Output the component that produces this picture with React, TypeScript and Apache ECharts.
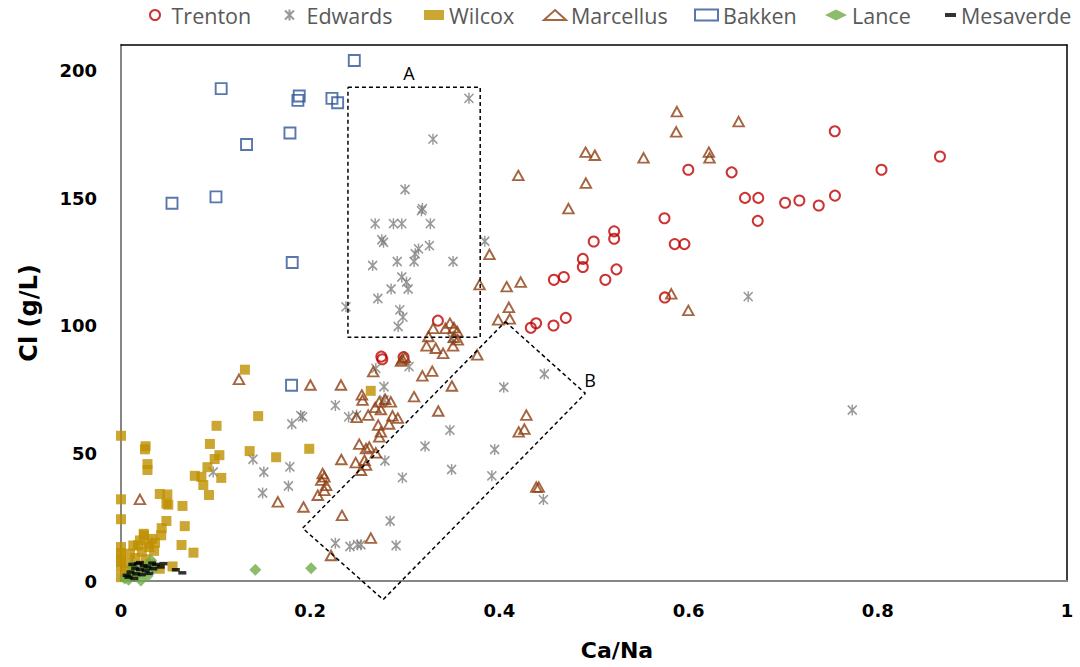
import React, { useEffect, useRef } from 'react';
import * as echarts from 'echarts';

type Pt = [number, number];

const seriesNames = ['Trenton', 'Edwards', 'Wilcox', 'Marcellus', 'Bakken', 'Lance', 'Mesaverde'];

const trenton: Pt[] = [
  [0.7545, 176.2], [0.8039, 161.1], [0.5997, 161.1], [0.6455, 160.1], [0.6596, 150.1], [0.6737, 150.1],
  [0.702, 148.2], [0.7171, 149.1], [0.7376, 147.1], [0.7547, 151.0], [0.6731, 141.1], [0.5745, 142.1],
  [0.5853, 132.0], [0.5956, 132.0], [0.4997, 133.0], [0.5213, 137.0], [0.5213, 134.1], [0.4882, 126.2],
  [0.4882, 123.0], [0.4576, 118.0], [0.4681, 119.1], [0.512, 118.0], [0.5237, 122.1], [0.5749, 111.1],
  [0.4332, 99.2], [0.4388, 101.0], [0.4572, 100.1], [0.4702, 103.1], [0.8657, 166.3], [0.335, 102.0],
  [0.2752, 87.9], [0.2762, 86.9], [0.2987, 87.7],
];

const edwards: Pt[] = [
  [0.2687, 140.0], [0.288, 140.0], [0.2968, 140.0], [0.327, 140.0], [0.2757, 133.7], [0.2775, 132.7],
  [0.266, 123.6], [0.292, 125.2], [0.2855, 114.4], [0.2715, 110.7], [0.2378, 107.4], [0.2947, 106.2],
  [0.298, 103.4], [0.293, 99.7], [0.3678, 189.1], [0.3298, 173.1], [0.3003, 153.4], [0.3186, 145.9],
  [0.3176, 145.1], [0.326, 131.4], [0.3145, 130.1], [0.311, 128.2], [0.3098, 125.2], [0.351, 125.2],
  [0.2968, 119.1], [0.3018, 117.1], [0.3035, 114.4], [0.3846, 133.1], [0.35, 95.1], [0.3045, 84.0],
  [0.278, 76.1], [0.278, 70.9], [0.2266, 68.8], [0.2406, 64.3], [0.249, 65.0], [0.192, 64.3],
  [0.19, 64.8], [0.1806, 61.5], [0.1395, 47.7], [0.151, 42.7], [0.1785, 44.7], [0.177, 37.2],
  [0.1497, 34.5], [0.279, 47.1], [0.2975, 40.5], [0.3214, 52.8], [0.3477, 59.1], [0.4046, 75.9],
  [0.4475, 81.1], [0.395, 51.5], [0.3495, 43.7], [0.392, 41.2], [0.4465, 31.9], [0.2845, 23.5],
  [0.2266, 14.8], [0.242, 13.5], [0.25, 14.2], [0.2536, 14.2], [0.2908, 13.9], [0.2694, 83.3],
  [0.0975, 42.7], [0.663, 111.4], [0.773, 67.0],
];

const wilcox: Pt[] = [
  [0.131, 82.8], [0.264, 74.5], [0.145, 64.6], [0.101, 60.8], [0, 56.9], [0.026, 52.8], [0.0253, 51.6],
  [0.094, 53.7], [0.199, 51.8], [0.136, 50.9], [0.104, 49.3], [0.099, 47.8], [0.164, 48.5], [0.028, 45.8],
  [0.028, 43.5], [0.0914, 44.6], [0.078, 41.2], [0.085, 40.8], [0.106, 40.4], [0.087, 37.6], [0.093, 33.7],
  [0, 32.0], [0.041, 34.1], [0.049, 33.9], [0.048, 30.3], [0.05, 29.9], [0.065, 29.4], [0, 24.2],
  [0.048, 23.5], [0.0674, 21.5], [0.043, 20.7], [0.0425, 17.9], [0.0243, 17.9], [0.02, 15.9],
  [0.0288, 14.6], [0.013, 13.9], [0.0095, 10.7], [0, 13.3], [0, 9.3], [0, 5.4], [0, 1.5], [0.064, 14.1],
  [0.0766, 11.1], [0.03, 13.3], [0.0545, 5.7], [0.041, 4.8], [0.015, 9.0], [0.022, 11.5], [0.033, 16.5],
  [0.018, 14.0], [0.008, 7.0], [0.026, 8.5], [0.035, 11.8], [0.005, 4.0], [0.012, 3.0], [0.031, 6.5],
  [0.024, 18.5], [0.036, 15.0], [0, 11.0], [0, 7.5],
];

const marcellus: Pt[] = [
  [0.5876, 183.9], [0.5869, 176.0], [0.6529, 180.0], [0.4911, 168.0], [0.5009, 166.8], [0.5524, 165.8],
  [0.6214, 168.0], [0.6221, 165.8], [0.42, 158.9], [0.4914, 155.9], [0.473, 145.9], [0.3895, 128.0],
  [0.379, 116.1], [0.4077, 115.3], [0.4225, 117.1], [0.41, 107.2], [0.3987, 102.3], [0.411, 102.7],
  [0.5817, 112.5], [0.5997, 106.0], [0.33, 99.0], [0.3477, 101.0], [0.343, 99.0], [0.352, 99.3],
  [0.3555, 97.7], [0.325, 95.8], [0.352, 95.5], [0.356, 94.5], [0.323, 92.1], [0.3327, 91.2],
  [0.3405, 89.2], [0.351, 92.1], [0.3766, 88.6], [0.2975, 86.9], [0.3, 87.6], [0.296, 86.2],
  [0.2666, 82.0], [0.3186, 80.4], [0.329, 82.2], [0.2002, 76.8], [0.2325, 76.8], [0.3498, 76.4],
  [0.2546, 72.9], [0.2553, 70.9], [0.3098, 72.2], [0.2792, 71.2], [0.2852, 70.2], [0.273, 70.2],
  [0.2687, 68.0], [0.2747, 67.2], [0.249, 64.1], [0.2613, 65.0], [0.3354, 66.6], [0.287, 64.7],
  [0.2926, 63.8], [0.2719, 61.1], [0.2834, 61.5], [0.2747, 58.4], [0.273, 56.5], [0.4285, 65.0],
  [0.4204, 58.4], [0.4264, 59.5], [0.2518, 53.6], [0.2624, 52.5], [0.259, 51.9], [0.2694, 50.2],
  [0.2329, 47.6], [0.2481, 46.4], [0.2574, 47.3], [0.259, 45.4], [0.2537, 43.4], [0.2132, 42.1],
  [0.215, 40.8], [0.2117, 39.5], [0.2168, 37.5], [0.215, 35.5], [0.208, 33.6], [0.1658, 31.0],
  [0.1929, 29.0], [0.439, 36.8], [0.4416, 36.8], [0.2336, 25.7], [0.2641, 16.8], [0.222, 10.0],
  [0.1247, 79.0], [0.02, 32.0],
];

const bakken: Pt[] = [
  [0.2466, 203.9], [0.1059, 192.9], [0.1884, 190.0], [0.187, 188.3], [0.223, 189.1], [0.229, 187.4],
  [0.1786, 175.5], [0.1327, 171.0], [0.0539, 148.0], [0.1004, 150.5], [0.181, 124.8], [0.1803, 76.7],
];

const lance: Pt[] = [
  [0.142, 4.4], [0.201, 5.0], [0.004, 1.0], [0.021, 0.2], [0.01, 2.5], [0.015, 4.0], [0.025, 5.5],
  [0.03, 6.0], [0.008, 0.5], [0.018, 3.0], [0.035, 5.0], [0.028, 2.0], [0.032, 8.0], [0.012, 6.0],
];

const mesaverde: Pt[] = [
  [0.058, 4.4], [0.0648, 3.2], [0.012, 6.5], [0.018, 6.8], [0.024, 6.0], [0.028, 5.5], [0.015, 5.0],
  [0.02, 4.5], [0.026, 4.0], [0.01, 3.5], [0.016, 2.8], [0.022, 2.5], [0.008, 1.5], [0.014, 1.0],
  [0.03, 3.0], [0.037, 6.5], [0.042, 5.5], [0.045, 6.8], [0.033, 7.0], [0.02, 7.2], [0.006, 2.2],
  [0.034, 4.8],
];

// annotation shapes (data coordinates)
const boxA: Pt[] = [[0.2399, 193.4], [0.3797, 193.4], [0.3797, 95.5], [0.2399, 95.5], [0.2399, 193.4]];
const boxB: Pt[] = [[0.4063, 101.6], [0.4908, 73.5], [0.2771, -7.3], [0.192, 20.7], [0.4063, 101.6]];

const STAR = 'path://M0,1L9,10M9,1L0,10M4.5,0L4.5,11';
const DASH = 'path://M0,0h11v4h-11z';

const tickFont = { color: '#000', fontFamily: 'DejaVu Sans', fontWeight: 'bold' as const, fontSize: 18 };
const titleFont = { color: '#000', fontFamily: 'DejaVu Sans', fontWeight: 'bold' as const, fontSize: 22 };
const yTitleFont = { ...titleFont, fontSize: 24 };
const legendFont = { color: '#595959', fontFamily: 'Open Sans', fontSize: 21.5 };

const legendLayout = [
  { name: 'Trenton', left: 149, w: 23, h: 10 },
  { name: 'Edwards', left: 284, w: 24, h: 11 },
  { name: 'Wilcox', left: 424, w: 20, h: 10 },
  { name: 'Marcellus', left: 543, w: 22, h: 10 },
  { name: 'Bakken', left: 694, w: 23, h: 11 },
  { name: 'Lance', left: 825, w: 22, h: 11 },
  { name: 'Mesaverde', left: 945, w: 11, h: 4, icon: DASH },
];

function buildOption() {
  const scatter = (name: string, data: Pt[], symbol: string, symbolSize: any, itemStyle: any) => ({
    type: 'scatter', name, data, symbol, symbolSize, itemStyle, silent: true,
    emphasis: { disabled: true }, xAxisIndex: 0, yAxisIndex: 0,
  });
  const dashed = (data: Pt[]) => ({
    type: 'line', data, symbol: 'none', clip: false, silent: true, z: 5,
    lineStyle: { color: '#000', width: 1.5, type: [4, 3] }, xAxisIndex: 0, yAxisIndex: 0,
  });
  return {
    animation: false,
    backgroundColor: '#fff',
    grid: { left: 121, right: 13, top: 45, bottom: 86 },
    legend: legendLayout.map((l) => ({
      data: [l.icon ? { name: l.name, icon: l.icon } : l.name],
      left: l.left, top: 4, padding: 0, itemWidth: l.w, itemHeight: l.h,
      itemStyle: { borderWidth: 2 },
      textStyle: legendFont, selectedMode: false,
    })),
    xAxis: [
      {
        type: 'value', min: 0, max: 1, interval: 0.2, position: 'bottom',
        axisLine: { show: true, onZero: false, lineStyle: { color: '#868686', width: 2 } },
        axisTick: { show: false }, splitLine: { show: false },
        axisLabel: { ...tickFont, margin: 20 },
        name: 'Ca/Na', nameLocation: 'middle', nameGap: 58,
        nameTextStyle: { ...titleFont, padding: [0, 0, 0, 46] },
      },
      {
        type: 'value', min: 0, max: 1, position: 'top',
        axisLine: { show: true, onZero: false, lineStyle: { color: '#000', width: 1.5 } },
        axisTick: { show: false }, splitLine: { show: false }, axisLabel: { show: false },
      },
    ],
    yAxis: [
      {
        type: 'value', min: 0, max: 210, interval: 50, position: 'left',
        axisLine: { show: true, onZero: false, lineStyle: { color: '#868686', width: 2 } },
        axisTick: { show: false }, splitLine: { show: false },
        axisLabel: { ...tickFont, margin: 24, showMaxLabel: false },
        name: 'Cl (g/L)', nameLocation: 'middle', nameGap: 80, nameRotate: 90,
        nameTextStyle: yTitleFont,
      },
      {
        type: 'value', min: 0, max: 210, position: 'right',
        axisLine: { show: true, onZero: false, lineStyle: { color: '#000', width: 1.5 } },
        axisTick: { show: false }, splitLine: { show: false }, axisLabel: { show: false },
      },
    ],
    graphic: [
      { type: 'text', x: 409, y: 73, style: { text: 'A', fontFamily: 'Open Sans', fontSize: 18, fill: '#000', align: 'center', verticalAlign: 'middle' } },
      { type: 'text', x: 590, y: 380, style: { text: 'B', fontFamily: 'Open Sans', fontSize: 18, fill: '#000', align: 'center', verticalAlign: 'middle' } },
    ],
    series: [
      scatter(seriesNames[0], trenton, 'circle', 10, { color: 'rgba(0,0,0,0)', borderColor: '#C00000', borderWidth: 2 }),
      scatter(seriesNames[1], edwards, STAR, [9, 11], { color: 'rgba(0,0,0,0)', borderColor: '#7F7F7F', borderWidth: 1.6 }),
      scatter(seriesNames[2], wilcox, 'rect', 10, { color: '#BF9000' }),
      scatter(seriesNames[3], marcellus, 'triangle', [10.5, 9.5], { color: 'rgba(0,0,0,0)', borderColor: '#8E3F12', borderWidth: 1.9 }),
      scatter(seriesNames[4], bakken, 'rect', 11, { color: 'rgba(0,0,0,0)', borderColor: '#2F5597', borderWidth: 1.9 }),
      scatter(seriesNames[5], lance, 'diamond', 12, { color: '#70AD47' }),
      scatter(seriesNames[6], mesaverde, 'rect', [8, 3.5], { color: '#000' }),
      dashed(boxA),
      dashed(boxB),
    ],
  };
}

export default function App() {
  const ref = useRef<HTMLDivElement>(null);
  useEffect(() => {
    if (!ref.current) return;
    const chart = echarts.init(ref.current, null, { renderer: 'svg' });
    chart.setOption(buildOption() as any);
    return () => chart.dispose();
  }, []);
  return (
    <div
      ref={ref}
      style={{ position: 'fixed', left: 0, top: 0, width: 1080, height: 667, background: '#fff' }}
    />
  );
}
